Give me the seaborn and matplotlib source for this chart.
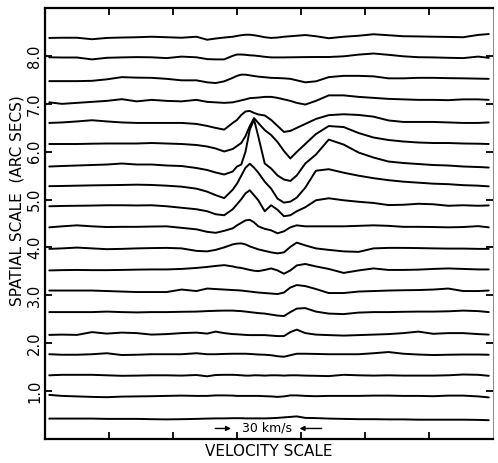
import numpy as np
import pandas as pd
import matplotlib
matplotlib.use("Agg")
import matplotlib.pyplot as plt
import seaborn as sns

# Velocity channels (km/s, arbitrary zero at left edge of the frame)
VELOCITY = [2, 8, 15, 22, 29, 36, 43, 50, 57, 64, 71, 76, 80, 84, 88, 90, 92, 94,
            96, 98, 100, 103, 106, 109, 112, 115, 118, 122, 127, 133, 140, 147,
            154, 161, 168, 175, 182, 189, 196, 203, 208]

# Spatial position (arc secs) of each spectrum, top to bottom
SPATIAL = [8.40, 7.96, 7.50, 7.04, 6.60, 6.16, 5.69, 5.29, 4.86, 4.42,
           3.97, 3.52, 3.10, 2.65, 2.18, 1.77, 1.33, 0.90, 0.42]

# Relative intensity of each spectrum (display units), top to bottom
S01 = [-1.2, -1, -1, -2.5, -1.2, -0.8, -0.5, 0, -0.5, -1, 0, -3, -1.8, -0.8, 0, 0.8, 1.5, 2, 2, 1.5, 0.8, -0.5, -1.2, -0.8, 0, 0.5, 1, 1.7, 0.5, -1.5, 0, 1, 2.5, 1.5, 0.5, 0.3, 0, -0.2, -0.5, 1.8, 2.7]
S02 = [0.5, 0.3, 0.3, -1.6, 0, 0.4, 0.7, 0.5, -0.3, 1.2, 0.5, -1.3, -1.6, -1.6, 2, 3.3, 3.3, 3, 2.5, 2.3, 1.8, 1, 0.4, 0.4, 0.4, 0.5, 0.6, 0.7, 0.8, 0.8, 1.5, 3.2, 4.3, 3, 1.5, 0.6, 0.4, 0, -0.3, 1.2, 0]
S03 = [-1.3, -1.3, -1.3, -1, 0.5, 2.7, 2.2, 2, 1, -0.5, -0.5, -2.5, -3.2, -1.5, 2, 4, 5.2, 5.2, 4.5, 3.8, 3.2, 2.6, 2, 1.8, 1.5, 1, -0.5, -2.5, -1.5, 2.7, 4, 4, 3.5, 1.5, 1.5, 2, 2, 1.7, 1.5, 1.2, 1]
S04 = [-0.5, -2, -1, 0, 1, 2.7, 0.5, 2, 1, 0.5, 2, 0, -0.5, -1, -0.5, 0.5, 1.5, 2.5, 3.7, 4, 4.3, 5, 5, 4, 2.5, 1, -1, -2.7, 1, 6.5, 6.5, 5, 4, 3, 2.5, 2, 2, 1.7, 2.5, 2.5, 2]
S05 = [0, 0.5, 1.5, 2.7, 1.5, 0.5, 0, 0, 0, 0, -1, -3, -5, -6.7, 0, 3, 8, 11.5, 12, 10, 8.5, 7.5, 3, -3, -9, -8, -5, -1, 4, 7.8, 8.7, 8, 6.3, 2.5, 1, 1, 1, 0.5, 0, 0, 0.5]
S06 = [0, 0, 0, 0.3, 0.5, 0.5, 0.5, 1, 0.5, 0, -1, -2.5, -4.5, -7.5, -5, -2, 1, 8, 18, 26, 21, 14, 9, 2, -7, -14.5, -8, 0, 10, 18, 17, 11, 6.5, 4, 2.5, 1.5, 1, 1, 0.5, 0.3, 0]
S07 = [0, 0.5, 1, 1.5, 2, 3, 2, 2, 1, 0.5, -1.5, -3.5, -6, -8, -5, 0, 2, 15, 37, 47, 30, 3, -2, -9, -13, -14.5, -9, 3, 12, 27, 22, 14, 9, 5, 3.5, 2.5, 1.5, 1, 0, -0.5, -1]
S08 = [-0.5, -0.3, 0, 0.3, 0.5, 0.7, 1, 0.7, 0, -1, -3, -6, -9.5, -12.5, -4, 2, 10, 18, 22, 18, 13, 4, -3, -13, -17, -16, -12, -2, 15, 16.5, 13, 10, 7.5, 5.5, 4, 3, 2, 1.5, 0.5, 0, -0.7]
S09 = [0, 0.3, 0.5, 0.7, 1, 1, 0.8, 1, 0, -1.5, -3, -5, -8, -9, -3, 2, 7, 13, 16, 11, 6, -5, 1, -3.5, -10, -9, -5, -1, 6, 8, 6, 4.5, 3.3, 1.2, 1.5, 2.5, 2, 0.5, 1, 0.5, 0.8]
S10 = [0, 1, 2, 1, 0.3, 0.5, 0.5, 0.8, 1, -0.5, -2, -4.5, -5.5, -3.5, -1, 2, 4.5, 7, 7.5, 5, 1, -1.5, -3, -6, -4, 0, 2, 1, 1, 1, 1, 1.5, 2, 1.5, 0.5, 0.5, 0.3, 0, 0.3, 1.2, 0]
S11 = [0, 0.5, 1.3, 0.5, -0.3, 0, 0.5, 0.8, 1, 0.5, -2, -2.5, -1, 1.5, 4.5, 5.3, 5.5, 4.5, 2.5, 1, -0.5, -2, -3.5, -4.5, -3.5, 2, 6.3, 3.5, 0.5, -1, -2.5, -3, 0.5, 1, 1, 0.8, 0.5, 0.3, 0.3, 0, 0]
S12 = [0, 0.3, 0.5, 0.3, 0.3, 0.5, 0.8, 1, 1, 1.5, 2.5, 3.5, 4.5, 5.3, 4, 3, 2.5, 1.5, 0.5, -0.3, -0.7, 0.5, 2, 0, -3.3, 0, 5, 6.5, 4, 1.5, -2.5, 0, 2, 0.5, 0.5, 0.8, 1.5, 2, 1.5, 1, 1]
S13 = [0, 0, 0, 0, -0.5, -1, -1.5, -1.5, -1.5, 1, -0.5, 2, 1.5, 1, 0.5, 0.3, 0, -0.5, -1, -1.5, -2, -2.5, -3, -3.5, -2, 3, 5.5, 4.5, 1.5, -2.5, -2.5, -1, -0.5, 0, 0.3, 0.5, 1, 2, -0.5, -0.5, 0]
S14 = [0, 0, 0, 0, 0.5, 0, -0.3, 0, 0, 0.3, 0.5, 1, 1.3, 1.5, 1.5, 1.2, 1, 0.5, 0, -0.5, -1, -1.5, -2.5, -3.5, -4, 0, 3.5, 4, 0.5, -1.5, -2, -0.5, 0, 0, 0.3, 0.5, 0.5, 0.8, 1.5, 1, 0]
S15 = [-0.3, 0, -0.3, 2.5, 1, 2, 1.5, 0, 0.5, 1.5, 2, 1, 3, 1.5, 0.5, 0.3, 0, -0.3, -0.5, -0.5, -0.5, -0.5, -1, -1.5, -1.5, 2.5, 5, 1.5, 0, -0.5, -1, -0.5, 0, 0.5, 1.5, 3, 0.8, 1.5, 1.5, 0.5, 0]
S16 = [0, -0.5, -0.5, 0, 1, -0.8, -0.5, 0, 0, 0, 1, 0, 0, 0.3, 0.5, 0.5, 0.5, 0.5, 0.3, 0, -0.3, -0.5, -1, -2, -2.5, -1, 0.5, 0.5, 0.3, 0, 0, 0, 1, 2.2, 0.5, -0.3, -0.8, -0.5, -0.3, -0.3, -0.5]
S17 = [0, 0.5, 0.5, 0.5, 0, -0.5, -0.3, 0, 0, -0.3, 0.3, -1, 0.3, 0.5, 0.5, 0.3, 0, -0.3, -0.3, 0, 0, -0.3, 0, 0, -0.3, 0, 0, -0.3, -0.5, -0.8, 0.5, 0, -0.3, 0, -0.3, -0.3, -0.3, 0, 0.8, 0.5, -0.5]
S18 = [1, 0, -0.5, -1, -1.3, -0.7, -0.5, -0.3, 0, 0.3, 0, 0, 0.5, 0.5, 0.3, 0, 0, 0, 0, 0, 0, -0.3, -0.5, -1, -0.5, 0.5, 0.5, 0, -0.3, 0, 0, 0, 0.3, 0.3, 0, 0, -0.3, 0.3, 0.3, -0.5, -1.5]
S19 = [0.3, 0.3, 0.3, 0.3, 0, 0, 0, -0.3, -0.5, -0.3, 0, 0.3, 0.5, 0.5, 0.7, 0.7, 0.7, 0.5, 0.5, 0.5, 0.5, 0.5, 0.7, 1, 1.5, 2, 2.5, 1, 0.8, 0.3, 0, -0.3, -0.3, -0.5, -0.5, -0.8, -0.8, -0.8, -0.8, -1, -1.3]

SPECTRA = [S01, S02, S03, S04, S05, S06, S07, S08, S09, S10,
           S11, S12, S13, S14, S15, S16, S17, S18, S19]

Y_TICKS = [1.0, 2.0, 3.0, 4.0, 5.0, 6.0, 7.0, 8.0]
Y_TICK_LABELS = ["1.0", "2.0", "3.0", "4.0", "5.0", "6.0", "7.0", "8.0"]
X_TICKS = [30, 60, 90, 120, 150, 180]

GAIN = 1.0 / 48.0   # arc secs of plot offset per intensity unit (display gain)

rows = []
for i, (pos, spec) in enumerate(zip(SPATIAL, SPECTRA)):
    for v, s in zip(VELOCITY, spec):
        rows.append({"trace": i, "velocity": v, "offset": pos + s * GAIN})
df = pd.DataFrame(rows)

sns.set_style("ticks")
plt.rcParams["font.family"] = ["DejaVu Sans"]
plt.rcParams["text.color"] = "black"
plt.rcParams["axes.labelcolor"] = "black"
plt.rcParams["xtick.color"] = "black"
plt.rcParams["ytick.color"] = "black"

fig = plt.figure(figsize=(4.98, 4.63), dpi=100)
ax = fig.add_axes([45 / 498, 24 / 463, 448 / 498, 431 / 463])

sns.lineplot(data=df, x="velocity", y="offset", units="trace", estimator=None,
             color="black", linewidth=1.4, sort=False, ax=ax, legend=False)

ax.set_xlim(0, 210)
ax.set_ylim(0, 9)
ax.set_xticks(X_TICKS)
ax.set_xticklabels([])
ax.set_yticks(Y_TICKS)
ax.set_yticklabels(Y_TICK_LABELS, rotation=90, va="center", fontsize=10.5)
ax.tick_params(axis="x", direction="in", length=5, width=1.3, top=True, bottom=True)
ax.tick_params(axis="y", direction="in", length=5, width=1.3, left=True, right=True,
               pad=2, colors="black")
for side in ["left", "bottom", "top"]:
    ax.spines[side].set_linewidth(1.6)
    ax.spines[side].set_color("black")
ax.spines["right"].set_linewidth(0.7)
ax.spines["right"].set_color("#888888")

ax.set_xlabel("VELOCITY SCALE", fontsize=11)
ax.xaxis.label.set_va("center")
ax.xaxis.set_label_coords(0.5, -0.030)
ax.set_ylabel("SPATIAL SCALE  (ARC SECS)", fontsize=11)
ax.yaxis.label.set_va("center")
ax.yaxis.set_label_coords(-0.062, 0.552)

# velocity scale bar: 30 km/s between two tick marks
ax.annotate("", xy=(88.5, 0.22), xytext=(78.5, 0.22),
            arrowprops=dict(arrowstyle="-|>", color="black", lw=1.0,
                            mutation_scale=7))
ax.annotate("", xy=(118, 0.22), xytext=(131, 0.22),
            arrowprops=dict(arrowstyle="-|>", color="black", lw=1.0,
                            mutation_scale=7))
ax.text(104, 0.22, "30 km/s", ha="center", va="center", fontsize=9)

fig.savefig("out.png", dpi=100)
